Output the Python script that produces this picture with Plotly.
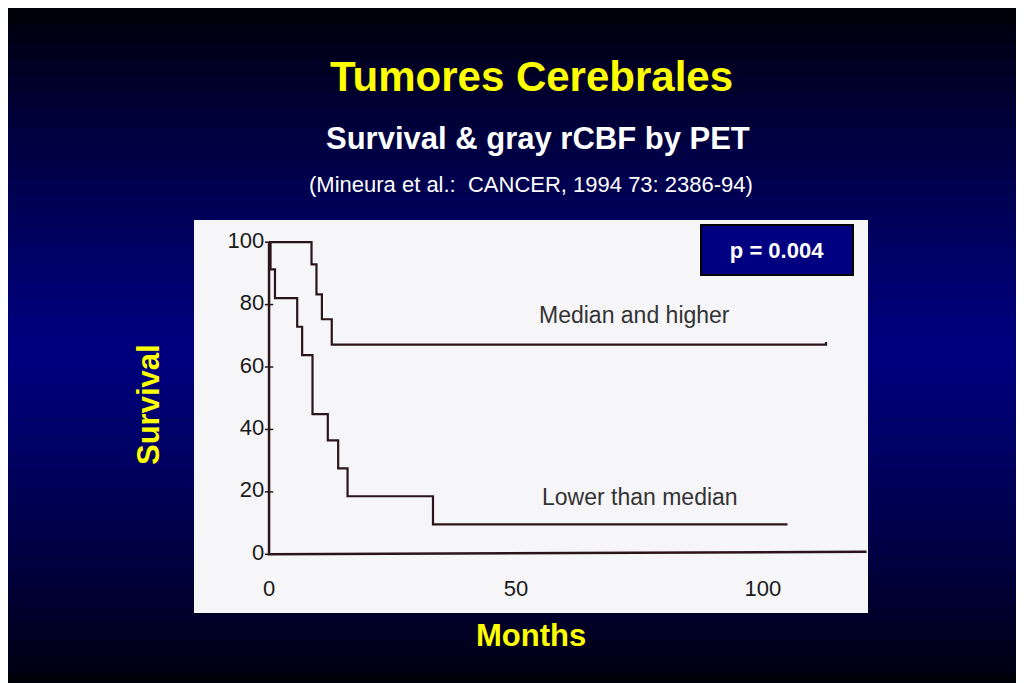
import plotly.graph_objects as go

hi_t = [0, 8.6, 9.6, 10.7, 12.7, 112.8]
hi_s = [100, 92.9, 83.3, 75.3, 67.2, 68]
lo_t = [0, 0.3, 1.2, 5.7, 6.7, 8.8, 11.9, 14.0, 15.9, 33.2, 105]
lo_s = [100, 91.3, 82.1, 72.9, 63.8, 44.9, 36.5, 27.5, 18.6, 9.6, 9.6]
y_ticks = [0, 20, 40, 60, 80, 100]
x_ticks = [0, 50, 100]

fig = go.Figure()
bands = 40
shapes = []
for i in range(bands):
    f = i / (bands - 1)
    c = 1 - abs(f - 0.5) * 2
    b = int(10 + 120 * c ** 0.8)
    shapes.append(dict(type="rect", xref="paper", yref="paper", x0=0, x1=1,
                       y0=i / bands, y1=(i + 1) / bands + 0.002,
                       fillcolor=f"rgb(0,0,{b})", line_width=0, layer="below"))
shapes.append(dict(type="rect", xref="paper", yref="paper", x0=186/1024, x1=860/1024,
                   y0=1-605/683, y1=1-212/683, fillcolor="#f6f6f9", line_width=0, layer="below"))
fig.update_layout(shapes=shapes)

lc = "#2b1518"
fig.add_trace(go.Scatter(x=hi_t, y=hi_s, mode="lines", line=dict(shape="hv", color=lc, width=2.2)))
fig.add_trace(go.Scatter(x=lo_t, y=lo_s, mode="lines", line=dict(shape="hv", color=lc, width=2.2)))
fig.add_trace(go.Scatter(x=[0, 0, 121], y=[100, 0, 0.8], mode="lines", line=dict(color=lc, width=2.5)))
fig.add_trace(go.Scatter(x=[0] * len(y_ticks), y=y_ticks, mode="markers+text",
                         marker=dict(symbol="line-ew", size=6, line=dict(color=lc, width=1.5)),
                         text=[str(v) for v in y_ticks], textposition="middle left",
                         textfont=dict(size=22, color="#1a1a1a", family="Liberation Sans")))
fig.add_trace(go.Scatter(x=x_ticks, y=[-11.5] * 3, mode="text", text=[str(v) for v in x_ticks],
                         textfont=dict(size=22, color="#1a1a1a", family="Liberation Sans")))

fig.update_xaxes(range=[-15.2, 121.3], visible=False, domain=[186/1024, 860/1024])
fig.update_yaxes(range=[-18.8, 107.1], visible=False, domain=[1-605/683, 1-212/683])

ann = [
    dict(text="<b>Tumores Cerebrales</b>", x=523/1024, y=1-68/683, font=dict(size=42, color="#ffff00")),
    dict(text="<b>Survival & gray rCBF by PET</b>", x=530/1024, y=1-130/683, font=dict(size=31, color="white")),
    dict(text="(Mineura et al.:  CANCER, 1994 73: 2386-94)", x=523/1024, y=1-177/683, font=dict(size=22, color="white")),
    dict(text="<b>Survival</b>", x=140/1024, y=1-397/683, textangle=-90, font=dict(size=31, color="#ffff00")),
    dict(text="<b>Months</b>", x=523/1024, y=1-627/683, font=dict(size=31, color="#ffff00")),
    dict(text="Median and higher", x=626/1024, y=1-307/683, font=dict(size=23, color="#333")),
    dict(text="Lower than median", x=632/1024, y=1-489/683, font=dict(size=23, color="#333")),
    dict(text="<b>p = 0.004</b>", x=769/1024, y=1-242/683, font=dict(size=22, color="white"),
         bgcolor="#000080", bordercolor="black", borderwidth=2, width=148, height=46),
]
for a in ann:
    a.update(xref="paper", yref="paper", showarrow=False, xanchor="center", yanchor="middle")
    a["font"]["family"] = "Liberation Sans"
fig.update_layout(annotations=ann, width=1024, height=683, margin=dict(l=0, r=0, t=0, b=0),
                  paper_bgcolor="#000010", plot_bgcolor="#f6f6f9", showlegend=False)
fig.write_html("out.html")
